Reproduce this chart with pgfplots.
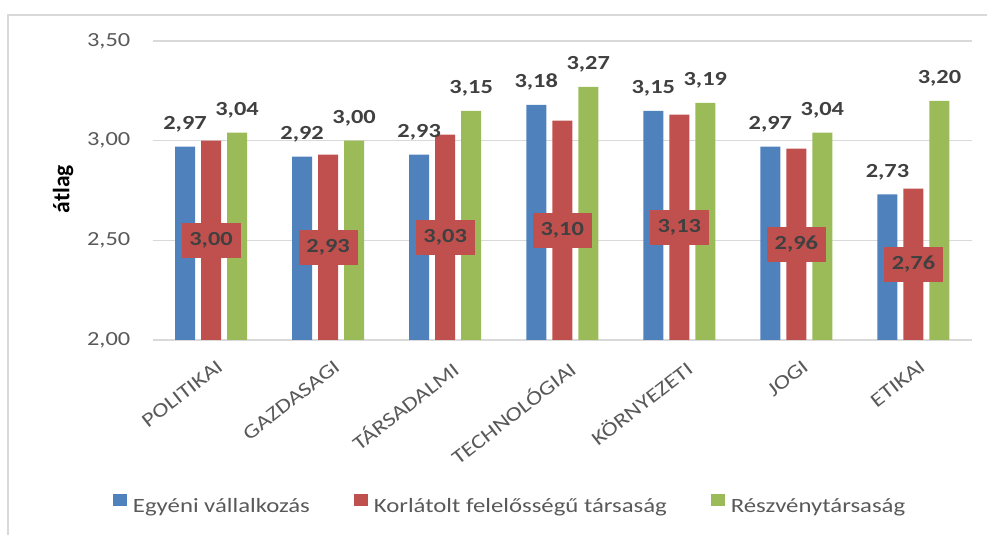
\documentclass[border=0pt]{standalone}
\usepackage{fontspec}
\setmainfont{Carlito}[FakeStretch=1.22]
\newfontfamily\ylabfont{Carlito}
\usepackage{pgfplots}
\usepackage{pgfplotstable}
\pgfplotsset{compat=1.18}
\definecolor{bluec}{HTML}{4F81BD}
\definecolor{redc}{HTML}{C0504D}
\definecolor{greenc}{HTML}{9BBB59}
\definecolor{gridc}{HTML}{D9D9D9}
\definecolor{tickc}{HTML}{595959}
\definecolor{labc}{HTML}{404040}
\pgfplotstableread{
x a b c
0 2.97 3.00 3.04
1 2.92 2.93 3.00
2 2.93 3.03 3.15
3 3.18 3.10 3.27
4 3.15 3.13 3.19
5 2.97 2.96 3.04
6 2.73 2.76 3.20
}\data
\newcommand{\tfont}{\fontsize{20bp}{24bp}\selectfont}
\newcommand{\lfont}{\fontsize{20.3bp}{24bp}\selectfont}
\begin{document}
\begin{tikzpicture}
\useasboundingbox (0bp,0bp) rectangle (987bp,535bp);
\draw[gridc, line width=1.5bp] (8bp,-5bp) -- (8bp,520bp) -- (995bp,520bp);
\begin{axis}[
  at={(152.5bp,195bp)}, anchor=south west,
  scale only axis, width=819.5bp, height=299bp,
  ybar, bar width=20bp,
  xmin=-0.5, xmax=6.5, ymin=2, ymax=3.5,
  axis line style={draw=none},
  major tick length=0pt,
  ymajorgrids, grid style={gridc, line width=1.3bp},
  ytick={2,2.5,3,3.5},
  yticklabels={{2,00},{2,50},{3,00},{3,50}},
  yticklabel style={text=tickc, font=\tfont, anchor=east, inner sep=0pt, xshift=-22bp},
  xtick={0,1,2,3,4,5,6},
  xticklabels={POLITIKAI,GAZDASAGI,TÁRSADALMI,TECHNOLÓGIAI,KÖRNYEZETI,JOGI,ETIKAI},
  xticklabel style={xshift=5bp, yshift=-19bp, rotate=38, anchor=north east, inner sep=0pt, text=tickc, font=\tfont},
  ylabel={\ylabfont\bfseries átlag},
  every axis y label/.style={at={(axis description cs:-0.109,0.505)}, rotate=90, anchor=center, font=\fontsize{23.5bp}{27bp}\selectfont, text=black},
  /pgf/number format/assume math mode=true,
  legend columns=3,
  legend style={at={(axis description cs:-0.0482,-0.548)}, anchor=west, draw=none, fill=none, inner sep=0pt, outer sep=0pt,
    font=\lfont, text=tickc, nodes={inner sep=0pt},
    /tikz/every odd column/.append style={column sep=6bp},
    /tikz/every even column/.append style={column sep=44bp}},
  legend image code/.code={\fill[#1] (0bp,0bp) rectangle (14bp,12.6bp);},
]
\addplot[fill=bluec, draw=none, bar shift=-26bp,
  nodes near coords={\pgfmathprintnumber[fixed,fixed zerofill,precision=2,use comma]{\pgfplotspointmeta}},
  nodes near coords style={font=\bfseries\tfont, text=labc, anchor=south, inner sep=0pt, yshift=14bp}]
  table[x=x,y=a]{\data};
\addplot[fill=redc, draw=none, bar shift=0bp] table[x=x,y=b]{\data};
\addplot[fill=greenc, draw=none, bar shift=26bp,
  nodes near coords={\pgfmathprintnumber[fixed,fixed zerofill,precision=2,use comma]{\pgfplotspointmeta}},
  nodes near coords style={font=\bfseries\tfont, text=labc, anchor=south, inner sep=0pt, yshift=14bp}]
  table[x=x,y=c]{\data};
\addplot[fill=none, draw=none, bar shift=0bp, forget plot,
  visualization depends on={y \as \rawy},
  nodes near coords={\pgfmathprintnumber[fixed,fixed zerofill,precision=2,use comma]{\pgfplotspointmeta}},
  nodes near coords style={fill=redc, text=labc, font=\bfseries\tfont, minimum width=59bp, minimum height=35bp, inner sep=0pt, anchor=center,
    yshift={-(\rawy-2)*100.04}}]
  table[x=x,y=b]{\data};
\legend{Egyéni vállalkozás, Korlátolt felelősségű társaság, Részvénytársaság}
\end{axis}
\end{tikzpicture}
\end{document}
